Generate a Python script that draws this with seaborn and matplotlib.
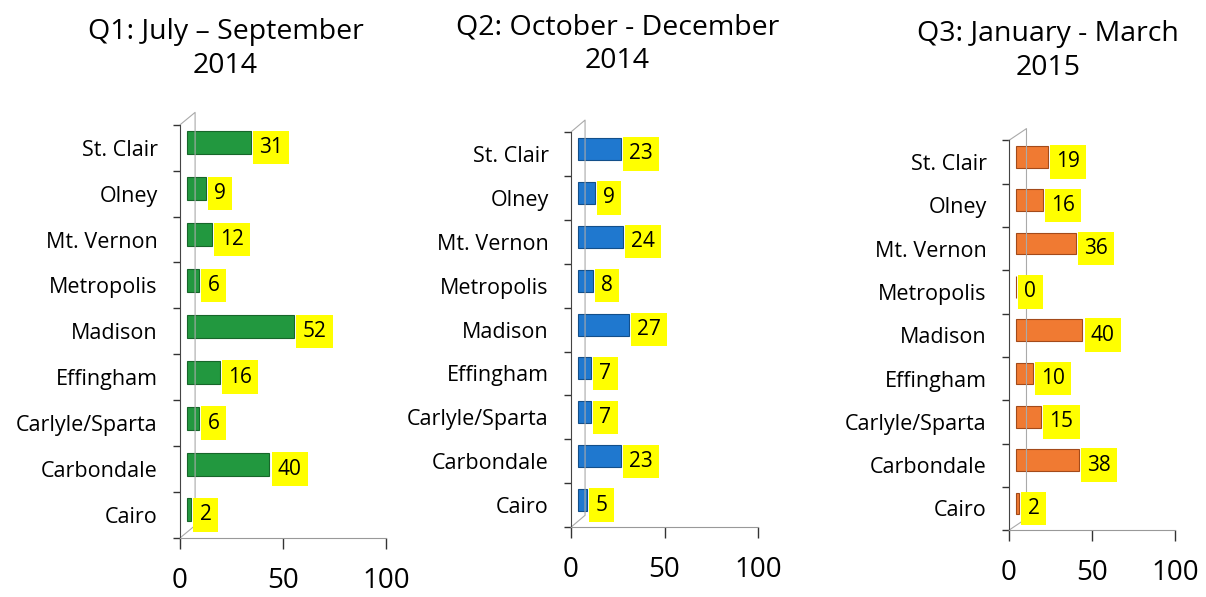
import matplotlib
matplotlib.use("Agg")
import matplotlib.pyplot as plt
import matplotlib.transforms as mtransforms
import seaborn as sns
import pandas as pd

# Data
sites = ["St. Clair", "Olney", "Mt. Vernon", "Metropolis", "Madison",
         "Effingham", "Carlyle/Sparta", "Carbondale", "Cairo"]
q1_values = [31, 9, 12, 6, 52, 16, 6, 40, 2]
q2_values = [23, 9, 24, 8, 27, 7, 7, 23, 5]
q3_values = [19, 16, 36, 0, 40, 10, 15, 38, 2]
titles = ["Q1: July \u2013 September\n2014",
          "Q2: October - December\n2014",
          "Q3: January - March\n2015"]
colors = ["#22983f", "#1f78cf", "#f07a32"]
edge_colors = ["#17662a", "#134f8a", "#a34a1a"]
x_ticks = [0, 50, 100]

sns.set_style("white")
plt.rcParams["font.family"] = ["Open Sans", "DejaVu Sans"]
plt.rcParams["text.color"] = "black"
plt.rcParams["xtick.color"] = "black"
plt.rcParams["ytick.color"] = "black"

fig = plt.figure(figsize=(12.06, 5.97), dpi=100)

# axes boxes in figure fraction (left, bottom, width, height)
boxes = [(0.1493, 0.099, 0.1708, 0.692),
         (0.4735, 0.117, 0.1550, 0.662),
         (0.8367, 0.112, 0.1376, 0.653)]
title_pos = [(0.187, 0.918), (0.512, 0.926), (0.869, 0.915)]
wall_dx = [0.073, 0.075, 0.105]
bar_shift_px = 7

for i, vals in enumerate([q1_values, q2_values, q3_values]):
    ax = fig.add_axes(boxes[i])
    df = pd.DataFrame({"site": sites, "n": vals})
    sns.barplot(data=df, x="n", y="site", orient="h", color=colors[i],
                width=0.5, edgecolor=edge_colors[i], linewidth=0.8,
                saturation=1, ax=ax)
    # shift the bars a little to the right and up, like the 3-D depth
    shift = mtransforms.ScaledTranslation(bar_shift_px / 100, 5 / 100,
                                          fig.dpi_scale_trans)
    for p in ax.patches:
        p.set_transform(ax.transData + shift)
    ax.set_xlim(0, 100)
    ax.set_ylim(len(sites) - 0.5, -0.5)
    ax.set_xlabel("")
    ax.set_ylabel("")
    ax.set_xticks(x_ticks)
    ax.set_xticklabels([str(t) for t in x_ticks], fontsize=20)
    ax.tick_params(axis="x", bottom=True, direction="out", length=8, pad=13,
                   color="#333333", width=1)
    ax.tick_params(axis="y", which="major", left=False, length=0,
                   labelsize=15.5, pad=16)
    ax.set_yticks([k - 0.5 for k in range(len(sites) + 1)], minor=True)
    ax.tick_params(axis="y", which="minor", left=True, direction="out",
                   length=5, color="#333333", width=1)
    for s in ["top", "right"]:
        ax.spines[s].set_visible(False)
    ax.spines["left"].set_color("#444444")
    ax.spines["bottom"].set_color("#999999")
    # back wall of the 3-D frame
    d = wall_dx[i]
    ax.plot([0.0, d, d, 0.0], [0.0, 0.03, 1.03, 1.0],
            transform=ax.transAxes, color="#aaaaaa", lw=0.8, clip_on=False)
    # yellow value labels, just right of each bar end
    for k, v in enumerate(vals):
        ax.annotate(str(v), xy=(v, k), xytext=(bar_shift_px * 0.72 + 6, 0),
                    textcoords="offset points", va="center", ha="left",
                    fontsize=15, color="black",
                    bbox=dict(boxstyle="square,pad=0.3", fc="#ffff00", ec="none"))
    fig.text(title_pos[i][0], title_pos[i][1], titles[i], ha="center",
             va="center", fontsize=20.5, linespacing=1.3)

fig.savefig("out.png", dpi=100, facecolor="white")
